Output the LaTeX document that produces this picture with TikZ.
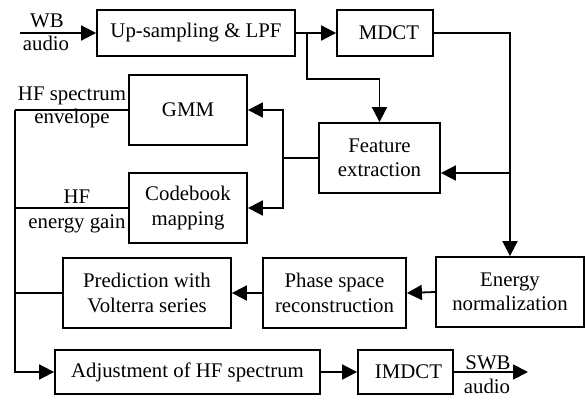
\documentclass[tikz,border=0pt]{standalone}
\usepackage{fontspec}
\setmainfont{Liberation Serif}
\usetikzlibrary{arrows.meta}
\begin{document}
\begin{tikzpicture}[x=1pt,y=-1pt,
  font=\fontsize{20.8}{24.5}\selectfont,
  blk/.style={draw,line width=1.8pt,align=center,inner sep=0pt},
  wire/.style={line width=1.8pt},
  arr/.style={wire,-{Triangle[length=15pt,width=15pt]}},
  lbl/.style={inner sep=0pt,anchor=base}]
\useasboundingbox (0,0) rectangle (588,396);

% processing blocks
\node[blk,minimum width=198pt,minimum height=46pt] (up) at (196,33) {Up-sampling \& LPF};
\node[blk,minimum width=96pt,minimum height=46pt] (mdct) at (385,33) {\hspace*{8pt}MDCT};
\node[blk,minimum width=121pt,minimum height=70pt] (feat) at (379.5,158) {Feature\\extraction};
\node[blk,minimum width=118pt,minimum height=70pt] (gmm) at (188,110) {GMM};
\node[blk,minimum width=118pt,minimum height=70pt] (code) at (188,208) {Codebook\\mapping};
\node[blk,minimum width=168pt,minimum height=70pt] (pred) at (147,293) {Prediction with\\Volterra series};
\node[blk,minimum width=143pt,minimum height=70pt] (phase) at (334.5,293) {Phase space\\reconstruction};
\node[blk,minimum width=148pt,minimum height=70pt] (energy) at (510,292) {Energy\\normalization};
\node[blk,minimum width=265pt,minimum height=44pt] (adj) at (187.5,372) {Adjustment of HF spectrum};
\node[blk,minimum width=95pt,minimum height=44pt] (imdct) at (405.5,372) {\hspace*{6pt}IMDCT};

% input
\coordinate (wbin) at (20,33);
\draw[arr] (wbin) -- (up.west);
\node[lbl] at (47,28) {WB};
\node[lbl] at (46,51) {audio};

% forward path and feature tap
\draw[arr] (up.east) -- (mdct.west);
\coordinate (tap) at (307,33);
\coordinate (tapturn) at (307,79);
\draw[arr] (tap) -- (tapturn) -| (feat.north);
\draw[arr] (mdct.east) -| (energy.north);
\coordinate (fb) at (510,173);
\draw[arr] (fb) -- (fb -| feat.east);

% feature distribution
\coordinate (split) at (283,158);
\draw[wire] (feat.west) -- (split);
\draw[arr] (split) |- (gmm.east);
\draw[arr] (split) |- (code.east);

% left bus to the adjustment block
\coordinate (bus) at (15,110);
\draw[wire] (gmm.west) -- (bus);
\draw[arr] (bus) |- (adj.west);
\draw[wire] (code.west) -- (code.west -| bus);
\draw[wire] (pred.west) -- (pred.west -| bus);
\node[lbl] at (72,100) {HF spectrum};
\node[lbl] at (72,123) {envelope};
\node[lbl] at (77,203) {HF};
\node[lbl] at (77,228) {energy gain};

% lower chain
\draw[arr] (energy.west) -- (phase.east);
\draw[arr] (phase.west) -- (pred.east);
\draw[arr] (adj.east) -- (imdct.west);
\coordinate (swbout) at (528,372);
\draw[arr] (imdct.east) -- (swbout);
\node[lbl] at (488,369) {SWB};
\node[lbl] at (487,393) {audio};
\end{tikzpicture}
\end{document}
